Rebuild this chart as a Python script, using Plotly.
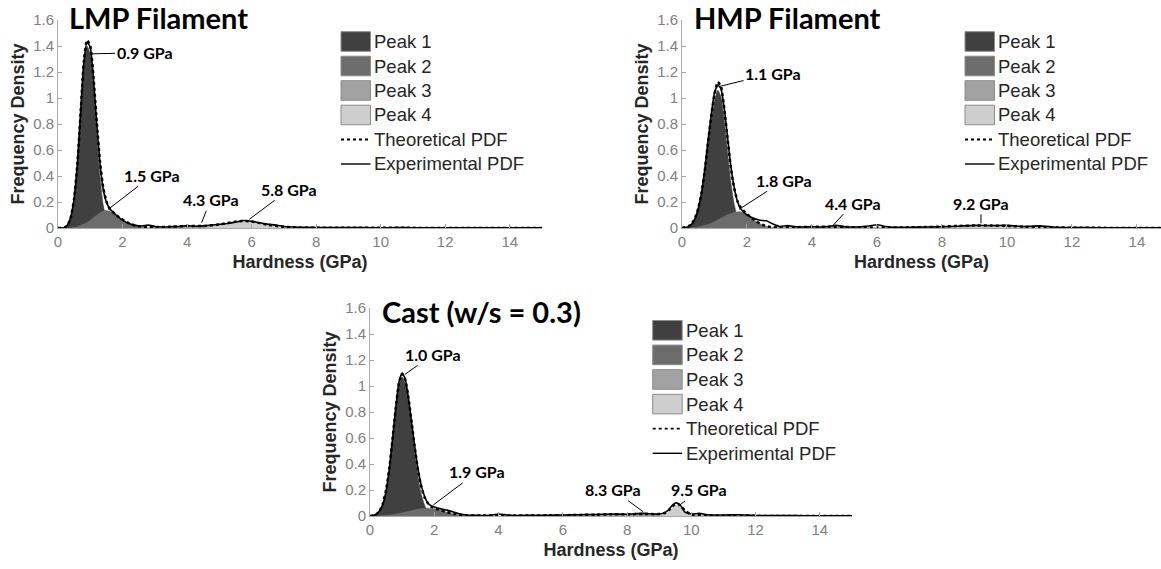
import plotly.graph_objects as go

W, H = 1161, 569

# ---------------- data ----------------
legend_labels = ["Peak 1", "Peak 2", "Peak 3", "Peak 4", "Theoretical PDF", "Experimental PDF"]
panel_titles = ["LMP Filament", "HMP Filament", "Cast (w/s = 0.3)"]
x_ticks = [0, 2, 4, 6, 8, 10, 12, 14]
y_ticks = [0, 0.2, 0.4, 0.6, 0.8, 1.0, 1.2, 1.4, 1.6]

# LMP filament
lmp_p1_x = [0.2, 0.3, 0.4, 0.5, 0.6, 0.7, 0.8, 0.9, 1.0, 1.1, 1.2, 1.3, 1.4, 1.5, 1.6, 1.7]
lmp_p1_y = [0.0, 0.02, 0.08, 0.22, 0.48, 0.86, 1.25, 1.40, 1.34, 1.08, 0.72, 0.40, 0.18, 0.07, 0.02, 0.0]
lmp_p2_x = [0.4, 0.6, 0.8, 1.0, 1.2, 1.4, 1.5, 1.6, 1.8, 2.0, 2.2, 2.4, 2.6, 2.8]
lmp_p2_y = [0, 0.01, 0.03, 0.06, 0.10, 0.13, 0.135, 0.13, 0.10, 0.065, 0.035, 0.015, 0.005, 0]
lmp_p3_x = [2.5, 3, 3.5, 4, 4.3, 4.5, 5, 5.5, 6, 6.5]
lmp_p3_y = [0, 0.005, 0.01, 0.015, 0.017, 0.016, 0.012, 0.007, 0.003, 0]
lmp_p4_x = [4.5, 5, 5.25, 5.5, 5.75, 5.85, 6, 6.25, 6.5, 7, 7.5]
lmp_p4_y = [0, 0.015, 0.03, 0.042, 0.05, 0.05, 0.047, 0.038, 0.025, 0.008, 0]
lmp_theo_x = [0, 0.2, 0.3, 0.4, 0.5, 0.6, 0.7, 0.8, 0.9, 1.0, 1.1, 1.2, 1.3, 1.4, 1.5, 1.6, 1.8, 2.0, 2.2, 2.4,
              2.6, 2.8, 3.0, 3.5, 4.0, 4.5, 5.0, 5.5, 5.75, 6.0, 6.5, 7.0, 7.5, 8, 9, 10, 11, 12, 13, 14, 15]
lmp_theo_y = [0, 0.003, 0.022, 0.085, 0.225, 0.49, 0.88, 1.28, 1.445, 1.40, 1.16, 0.82, 0.515, 0.31, 0.205, 0.15,
              0.10, 0.065, 0.037, 0.018, 0.01, 0.006, 0.006, 0.01, 0.015, 0.016, 0.027, 0.049, 0.055, 0.05, 0.025,
              0.009, 0.003, 0.002, 0.001, 0.001, 0.001, 0, 0, 0, 0]
lmp_exp_x = [0, 0.2, 0.3, 0.4, 0.5, 0.6, 0.7, 0.8, 0.9, 1.0, 1.1, 1.2, 1.3, 1.4, 1.5, 1.6, 1.8, 2.0, 2.2, 2.4, 2.6,
             2.8, 3.0, 3.25, 3.5, 3.75, 4.0, 4.25, 4.5, 4.75, 5.0, 5.25, 5.5, 5.75, 6.0, 6.25, 6.5, 6.75, 7.0, 7.5,
             8, 8.5, 9, 9.5, 10, 10.5, 11, 11.5, 12, 12.5, 13, 13.5, 14, 14.5, 15]
lmp_exp_y = [0, 0.004, 0.025, 0.09, 0.23, 0.50, 0.89, 1.27, 1.43, 1.39, 1.15, 0.80, 0.50, 0.30, 0.20, 0.15, 0.10,
             0.06, 0.035, 0.02, 0.015, 0.022, 0.012, 0.008, 0.010, 0.012, 0.018, 0.014, 0.016, 0.022, 0.028, 0.035,
             0.045, 0.058, 0.052, 0.04, 0.03, 0.022, 0.012, 0.006, 0.004, 0.003, 0.004, 0.003, 0.002, 0.003, 0.002,
             0.002, 0.001, 0.002, 0.001, 0.001, 0.001, 0.001, 0.001]

# HMP filament
hmp_p1_x = [0.1, 0.2, 0.3, 0.4, 0.5, 0.6, 0.7, 0.8, 0.9, 1.0, 1.1, 1.2, 1.3, 1.4, 1.5, 1.6, 1.7, 1.8, 1.9, 2.0, 2.1]
hmp_p1_y = [0, 0.013, 0.032, 0.071, 0.143, 0.255, 0.42, 0.63, 0.82, 0.98, 1.06, 1.01, 0.83, 0.59, 0.36, 0.193,
            0.088, 0.034, 0.012, 0.004, 0]
hmp_p2_x = [0.2, 0.4, 0.6, 0.8, 1.0, 1.2, 1.4, 1.6, 1.8, 2.0, 2.2, 2.4, 2.6, 2.8, 3.0]
hmp_p2_y = [0, 0.005, 0.014, 0.028, 0.049, 0.076, 0.102, 0.12, 0.125, 0.103, 0.066, 0.033, 0.013, 0.004, 0]
hmp_p3_x = [2.5, 3.0, 3.5, 4.0, 4.4, 5.0, 5.5, 6.0, 6.5]
hmp_p3_y = [0, 0.003, 0.006, 0.009, 0.01, 0.008, 0.005, 0.002, 0]
hmp_p4_x = [6.5, 7, 7.5, 8, 8.5, 9, 9.2, 9.5, 10, 10.5, 11, 11.5, 12]
hmp_p4_y = [0, 0.003, 0.006, 0.01, 0.015, 0.018, 0.019, 0.018, 0.015, 0.01, 0.006, 0.003, 0]
hmp_theo_x = [0, 0.2, 0.3, 0.4, 0.5, 0.6, 0.7, 0.8, 0.9, 1.0, 1.1, 1.2, 1.3, 1.4, 1.5, 1.6, 1.7, 1.8, 2.0, 2.2,
              2.4, 2.6, 2.8, 3.0, 3.5, 4.0, 4.5, 5.0, 5.5, 6, 6.5, 7, 7.5, 8, 8.5, 9, 9.5, 10, 10.5, 11, 11.5, 12,
              13, 14, 15]
hmp_theo_y = [0, 0.013, 0.034, 0.076, 0.151, 0.269, 0.44, 0.658, 0.858, 1.03, 1.123, 1.086, 0.919, 0.692, 0.472,
              0.313, 0.211, 0.159, 0.107, 0.066, 0.033, 0.013, 0.006, 0.004, 0.006, 0.009, 0.010, 0.008, 0.005,
              0.004, 0.004, 0.005, 0.007, 0.011, 0.016, 0.019, 0.019, 0.016, 0.011, 0.007, 0.004, 0.002, 0.001, 0, 0]
hmp_exp_x = [0, 0.2, 0.3, 0.4, 0.5, 0.6, 0.7, 0.8, 0.9, 1.0, 1.1, 1.2, 1.3, 1.4, 1.5, 1.6, 1.7, 1.8, 2.0, 2.2, 2.4,
             2.6, 2.8, 3.0, 3.25, 3.5, 3.75, 4.0, 4.25, 4.5, 4.75, 5.0, 5.25, 5.5, 5.75, 6.0, 6.25, 6.5, 7, 7.5, 8,
             8.5, 9, 9.5, 10, 10.5, 11, 11.5, 12, 12.5, 13, 13.5, 14, 14.5, 15]
hmp_exp_y = [0, 0.01, 0.03, 0.07, 0.15, 0.27, 0.45, 0.67, 0.87, 1.04, 1.10, 1.07, 0.92, 0.70, 0.48, 0.32, 0.21,
             0.15, 0.10, 0.075, 0.06, 0.055, 0.03, 0.012, 0.018, 0.01, 0.008, 0.01, 0.008, 0.012, 0.02, 0.01,
             0.008, 0.01, 0.015, 0.025, 0.012, 0.006, 0.005, 0.008, 0.01, 0.014, 0.02, 0.018, 0.02, 0.012, 0.016,
             0.006, 0.004, 0.003, 0.002, 0.002, 0.001, 0.001, 0.001]

# Cast (w/s = 0.3)
cast_p1_x = [0.0, 0.1, 0.2, 0.3, 0.4, 0.5, 0.6, 0.7, 0.8, 0.9, 1.0, 1.1, 1.2, 1.3, 1.4, 1.5, 1.6, 1.7, 1.8, 1.9,
             2.0, 2.2]
cast_p1_y = [0, 0.004, 0.013, 0.037, 0.091, 0.193, 0.356, 0.578, 0.813, 1.0, 1.07, 1.017, 0.869, 0.67, 0.466,
             0.291, 0.165, 0.083, 0.038, 0.015, 0.006, 0]
cast_p2_x = [0.2, 0.4, 0.6, 0.8, 1.0, 1.2, 1.4, 1.6, 1.8, 2.0, 2.2, 2.4, 2.6, 2.8, 3.0, 3.2]
cast_p2_y = [0, 0.004, 0.008, 0.015, 0.025, 0.036, 0.048, 0.057, 0.06, 0.055, 0.044, 0.029, 0.017, 0.008, 0.003, 0]
cast_p3_x = [5.0, 5.5, 6.0, 6.5, 7.0, 7.5, 8.0, 8.3, 8.5, 9.0, 9.5, 10.0, 10.5, 11.0, 11.5, 12.0]
cast_p3_y = [0, 0.002, 0.003, 0.006, 0.008, 0.011, 0.0127, 0.013, 0.0127, 0.0115, 0.009, 0.006, 0.004, 0.002,
             0.001, 0]
cast_p4_x = [9.0, 9.1, 9.2, 9.3, 9.4, 9.5, 9.6, 9.7, 9.8, 9.9, 10.0, 10.1]
cast_p4_y = [0, 0.004, 0.013, 0.033, 0.06, 0.082, 0.082, 0.06, 0.033, 0.013, 0.004, 0]
cast_theo_x = [0, 0.1, 0.2, 0.3, 0.4, 0.5, 0.6, 0.7, 0.8, 0.9, 1.0, 1.1, 1.2, 1.3, 1.4, 1.5, 1.6, 1.7, 1.8, 1.9,
               2.0, 2.2, 2.4, 2.6, 2.8, 3.0, 3.5, 4.0, 4.5, 5.0, 5.5, 6.0, 6.5, 7.0, 7.5, 8.0, 8.5, 9.0, 9.2, 9.3,
               9.4, 9.5, 9.6, 9.7, 9.8, 10.0, 10.5, 11, 12, 13, 14, 15]
cast_theo_y = [0, 0.004, 0.014, 0.039, 0.095, 0.199, 0.364, 0.59, 0.828, 1.02, 1.095, 1.047, 0.905, 0.712, 0.514,
               0.343, 0.222, 0.142, 0.098, 0.074, 0.061, 0.044, 0.029, 0.018, 0.009, 0.005, 0.003, 0.003, 0.003,
               0.004, 0.005, 0.006, 0.008, 0.010, 0.013, 0.014, 0.015, 0.015, 0.025, 0.045, 0.072, 0.092, 0.091,
               0.069, 0.042, 0.01, 0.004, 0.002, 0.001, 0, 0, 0]
cast_exp_x = [0, 0.1, 0.2, 0.3, 0.4, 0.5, 0.6, 0.7, 0.8, 0.9, 1.0, 1.1, 1.2, 1.3, 1.4, 1.5, 1.6, 1.7, 1.8, 1.9,
              2.0, 2.2, 2.4, 2.6, 2.8, 3.0, 3.25, 3.5, 3.75, 4.0, 4.25, 4.5, 5.0, 5.5, 6.0, 6.5, 7.0, 7.5, 8.0, 8.5,
              9.0, 9.2, 9.3, 9.4, 9.5, 9.6, 9.7, 9.8, 10.0, 10.25, 10.5, 11, 11.5, 12, 12.5, 13, 13.5, 14, 14.5, 15]
cast_exp_y = [0, 0.005, 0.015, 0.04, 0.09, 0.19, 0.36, 0.59, 0.83, 1.03, 1.10, 1.05, 0.90, 0.71, 0.52, 0.35, 0.23,
              0.15, 0.10, 0.08, 0.07, 0.055, 0.045, 0.03, 0.015, 0.008, 0.006, 0.004, 0.006, 0.015, 0.008, 0.004,
              0.005, 0.006, 0.008, 0.01, 0.012, 0.015, 0.014, 0.02, 0.015, 0.03, 0.05, 0.08, 0.10, 0.095, 0.07,
              0.03, 0.015, 0.02, 0.01, 0.008, 0.01, 0.004, 0.003, 0.004, 0.002, 0.002, 0.001, 0.001]

# peak labels: (text, x, y, text offset px dx, dy)
lmp_labels = [("0.9 GPa", 1.04, 1.34, 53, -1), ("1.5 GPa", 1.56, 0.144, 44, -34),
              ("4.3 GPa", 4.45, 0.04, 9, -23), ("5.8 GPa", 5.93, 0.067, 40, -30)]
hmp_labels = [("1.1 GPa", 1.17, 1.09, 53, -13), ("1.8 GPa", 1.76, 0.144, 45, -29),
              ("4.4 GPa", 4.66, 0.023, 20, -22), ("9.2 GPa", 9.2, 0.036, 0, -20)]
cast_labels = [("1.0 GPa", 1.09, 1.09, 28, -20), ("1.9 GPa", 1.97, 0.085, 44, -33),
               ("8.3 GPa", 8.5, 0.033, -30, -22), ("9.5 GPa", 9.6, 0.077, 21, -16)]

# ---------------- style ----------------
peak_colors = ["#404040", "#6c6c6c", "#a2a2a2", "#cecece"]
AX_GREY = "#a8a8a8"
TICK_GREY = "#808080"
TXT = "#262626"
SANS = "Liberation Sans, Arial, sans-serif"
BOLDF = "Lato, Open Sans, sans-serif"

fig = go.Figure()

panels = [
    (1, [(lmp_p1_x, lmp_p1_y), (lmp_p2_x, lmp_p2_y), (lmp_p3_x, lmp_p3_y), (lmp_p4_x, lmp_p4_y)],
     lmp_theo_x, lmp_theo_y, lmp_exp_x, lmp_exp_y, lmp_labels),
    (2, [(hmp_p1_x, hmp_p1_y), (hmp_p2_x, hmp_p2_y), (hmp_p3_x, hmp_p3_y), (hmp_p4_x, hmp_p4_y)],
     hmp_theo_x, hmp_theo_y, hmp_exp_x, hmp_exp_y, hmp_labels),
    (3, [(cast_p1_x, cast_p1_y), (cast_p2_x, cast_p2_y), (cast_p3_x, cast_p3_y), (cast_p4_x, cast_p4_y)],
     cast_theo_x, cast_theo_y, cast_exp_x, cast_exp_y, cast_labels),
]

annotations = []
for idx, peaks, tx, ty, ex, ey, labels in panels:
    xa = "x" if idx == 1 else f"x{idx}"
    ya = "y" if idx == 1 else f"y{idx}"
    for (px_, py_), col, name in zip(peaks, peak_colors, legend_labels[:4]):
        fig.add_trace(go.Scatter(x=px_, y=py_, mode="lines", fill="tozeroy", fillcolor=col,
                                 line=dict(color=col, width=0.5, shape="spline", smoothing=0.6),
                                 name=name, showlegend=False, xaxis=xa, yaxis=ya))
    fig.add_trace(go.Scatter(x=ex, y=ey, mode="lines", name=legend_labels[5], showlegend=False,
                             line=dict(color="black", width=1.6, shape="spline", smoothing=0.5),
                             xaxis=xa, yaxis=ya))
    fig.add_trace(go.Scatter(x=tx, y=ty, mode="lines", name=legend_labels[4], showlegend=False,
                             line=dict(color="black", width=2.5, dash="dot", shape="spline", smoothing=0.5),
                             xaxis=xa, yaxis=ya))
    for text, x0, y0, dx, dy in labels:
        annotations.append(dict(text=text, x=x0, y=y0, xref=xa, yref=ya, showarrow=True, arrowhead=0,
                                arrowwidth=1, arrowcolor="black", ax=dx, ay=dy, standoff=0,
                                font=dict(family=BOLDF, size=16, color="black", weight="bold")))

# panel domains in pixels: (left, right, top, bottom, xmax)
domains = {1: (58, 542, 20, 228, 15.0), 2: (682, 1161, 20, 228, 14.74), 3: (370, 852, 308, 516, 15.0)}
axis_common = dict(showline=True, linecolor=AX_GREY, linewidth=1, ticks="inside", ticklen=4,
                   tickcolor=AX_GREY, showgrid=False, zeroline=False, automargin=False,
                   tickfont=dict(family=SANS, size=15, color=TICK_GREY))
for idx, (l, r, t, b, xmax) in domains.items():
    xk = "xaxis" if idx == 1 else f"xaxis{idx}"
    yk = "yaxis" if idx == 1 else f"yaxis{idx}"
    ya = "y" if idx == 1 else f"y{idx}"
    xa = "x" if idx == 1 else f"x{idx}"
    fig.update_layout(**{
        xk: dict(axis_common, domain=[l / W, r / W], range=[0, xmax], tickvals=x_ticks, anchor=ya,
                 title=dict(text="Hardness (GPa)", standoff=6,
                            font=dict(family=SANS, size=18, color=TXT, weight="bold"))),
        yk: dict(axis_common, domain=[1 - b / H, 1 - t / H], range=[0, 1.6], tickvals=y_ticks, anchor=xa,
                 title=dict(text="Frequency Density", standoff=3,
                            font=dict(family=SANS, size=18, color=TXT, weight="bold"))),
    })

# panel titles
for text, (xp, yp) in zip(panel_titles, [(67, 18), (692, 18), (380, 311)]):
    annotations.append(dict(text=text, x=xp / W, y=1 - yp / H, xref="paper", yref="paper", showarrow=False,
                            xanchor="left", yanchor="middle",
                            font=dict(family=BOLDF, size=29, color="black", weight="bold")))

# legends drawn per panel: (box left px, first row centre px, row spacing px)
shapes = []
for bx, by0, dyr in [(341, 41.5, 24.5), (965, 41.5, 24.5), (652.7, 330.3, 24.6)]:
    for i, lab in enumerate(legend_labels):
        cy = by0 + i * dyr
        if i < 4:
            shapes.append(dict(type="rect", xref="paper", yref="paper", x0=bx / W, x1=(bx + 29.5) / W,
                               y0=1 - (cy + 9.8) / H, y1=1 - (cy - 9.8) / H, fillcolor=peak_colors[i],
                               line=dict(color="#8c8c8c", width=1)))
        else:
            shapes.append(dict(type="line", xref="paper", yref="paper", x0=bx / W, x1=(bx + 29.5) / W,
                               y0=1 - cy / H, y1=1 - cy / H,
                               line=dict(color="black", width=1.8 if i == 4 else 1.4,
                                         dash="dot" if i == 4 else "solid")))
        annotations.append(dict(text=lab, x=(bx + 31) / W, y=1 - cy / H, xref="paper", yref="paper",
                                showarrow=False, xanchor="left", yanchor="middle",
                                font=dict(family=SANS, size=18.5, color=TXT)))

fig.update_layout(width=W, height=H, margin=dict(l=0, r=0, t=0, b=0), paper_bgcolor="white",
                  plot_bgcolor="white", showlegend=False, annotations=annotations, shapes=shapes)

fig.write_html("out.html")
